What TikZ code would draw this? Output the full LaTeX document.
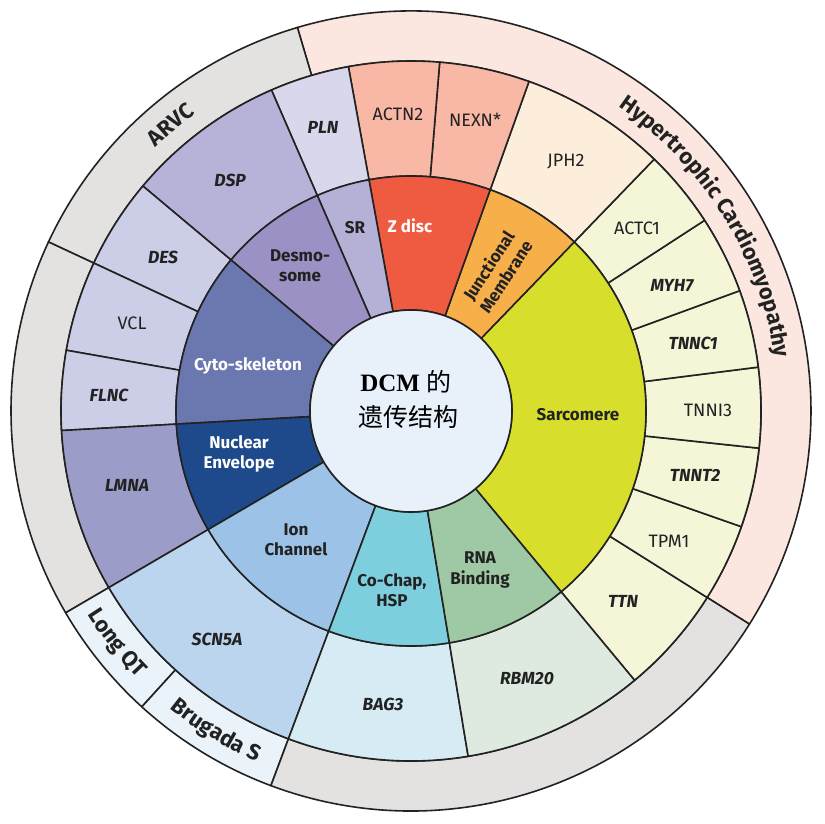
\documentclass[tikz,border=0pt]{standalone}
\usepackage{fontspec}
\setmainfont{Fira Sans}
\newfontfamily\cjkfont{Noto Sans CJK SC}
\newfontfamily\serifbf{Liberation Serif}
\usetikzlibrary{decorations.text}

\definecolor{lineC}{HTML}{222222}
\definecolor{txtC}{HTML}{222222}
\definecolor{grayR}{HTML}{E4E2E1}
\definecolor{hcmR}{HTML}{FCE7E0}
\definecolor{lqtR}{HTML}{EAF2FA}
\definecolor{centerC}{HTML}{E8F0FA}
\definecolor{sarcC}{HTML}{D7DF2C}
\definecolor{juncC}{HTML}{F7AF4A}
\definecolor{zdiscC}{HTML}{EE5B40}
\definecolor{srC}{HTML}{B5B1D6}
\definecolor{desmoC}{HTML}{9B91C5}
\definecolor{cytoC}{HTML}{6B77AF}
\definecolor{nucC}{HTML}{1E4A8B}
\definecolor{ionC}{HTML}{9CC3E7}
\definecolor{cochapC}{HTML}{7DCFDD}
\definecolor{rnaC}{HTML}{9EC9A4}
\definecolor{geneY}{HTML}{F4F6D7}
\definecolor{jphC}{HTML}{FDEEDC}
\definecolor{salmonC}{HTML}{F8B8A5}
\definecolor{plnC}{HTML}{D9D7EB}
\definecolor{dspC}{HTML}{B7B3D8}
\definecolor{desC}{HTML}{CCCDE6}
\definecolor{lmnaC}{HTML}{9C9CC9}
\definecolor{scnC}{HTML}{BBD5EE}
\definecolor{bagC}{HTML}{D6EBF4}
\definecolor{rbmC}{HTML}{DEEADF}

\newcommand{\outerlbl}{\bfseries\fontsize{22}{22}\selectfont}
\newcommand{\sectorfill}[5]{%
  \filldraw[seg, fill=#5] (#3:#1pt) arc[start angle=#3, end angle=#4, radius=#1pt]
    -- (#4:#2pt) arc[start angle=#4, end angle=#3, radius=#2pt] -- cycle;}

\tikzset{
  seg/.style={draw=lineC, line width=1.6pt, line join=round},
  gene/.style={font=\fontsize{18}{18}\selectfont, text=txtC, inner sep=0pt},
  genei/.style={font=\fontsize{17.5}{17.5}\selectfont\bfseries\itshape, text=txtC, inner sep=0pt},
  cat/.style={font=\fontsize{17}{20.5}\selectfont\bfseries, text=txtC, align=center, inner sep=0pt},
  catw/.style={cat, text=white},
  arclbl/.style={decorate, decoration={text along path, text align=center, text color=txtC}},
}

\begin{document}
\begin{tikzpicture}[x=1pt,y=1pt]
\useasboundingbox (-411,-413) rectangle (413,411);
\fill[white] (-411,-413) rectangle (413,411);

% outer ring
\sectorfill{350}{400}{-32.2}{106.5}{hcmR}
\sectorfill{350}{400}{106.5}{155}{grayR}
\sectorfill{350}{400}{155}{210.3}{grayR}
\sectorfill{350}{400}{210.3}{227.7}{lqtR}
\sectorfill{350}{400}{227.7}{249.5}{lqtR}
\sectorfill{350}{400}{249.5}{327.8}{grayR}

% gene ring
\sectorfill{235}{350}{-50.3}{-32.2}{geneY}
\sectorfill{235}{350}{-32.2}{-19.3}{geneY}
\sectorfill{235}{350}{-19.3}{-6.1}{geneY}
\sectorfill{235}{350}{-6.1}{7.2}{geneY}
\sectorfill{235}{350}{7.2}{20.1}{geneY}
\sectorfill{235}{350}{20.1}{33}{geneY}
\sectorfill{235}{350}{33}{46}{geneY}
\sectorfill{235}{350}{46}{70.3}{jphC}
\sectorfill{235}{350}{70.3}{85.3}{salmonC}
\sectorfill{235}{350}{85.3}{100.3}{salmonC}
\sectorfill{235}{350}{100.3}{113.5}{plnC}
\sectorfill{235}{350}{113.5}{140}{dspC}
\sectorfill{235}{350}{140}{155}{desC}
\sectorfill{235}{350}{155}{170}{desC}
\sectorfill{235}{350}{170}{183.2}{desC}
\sectorfill{235}{350}{183.2}{210.3}{lmnaC}
\sectorfill{235}{350}{210.3}{249.5}{scnC}
\sectorfill{235}{350}{249.5}{279.4}{bagC}
\sectorfill{235}{350}{279.4}{309.7}{rbmC}

% category ring
\sectorfill{101}{235}{-50.3}{46}{sarcC}
\sectorfill{101}{235}{46}{70.3}{juncC}
\sectorfill{101}{235}{70.3}{100.3}{zdiscC}
\sectorfill{101}{235}{100.3}{113.5}{srC}
\sectorfill{101}{235}{113.5}{140}{desmoC}
\sectorfill{101}{235}{140}{183.2}{cytoC}
\sectorfill{101}{235}{183.2}{210.3}{nucC}
\sectorfill{101}{235}{210.3}{249.5}{ionC}
\sectorfill{101}{235}{249.5}{279.4}{cochapC}
\sectorfill{101}{235}{279.4}{309.7}{rnaC}

% center
\filldraw[seg, fill=centerC] (0,0) circle[radius=101pt];
\node[font=\fontsize{25}{25}\selectfont, text=black, inner sep=0pt] (title1) at (-5,29) {{\serifbf\bfseries DCM} {\cjkfont 的}};
\node[font=\fontsize{25}{25}\selectfont\cjkfont, text=black, inner sep=0pt] (title2) at (-3,-6) {遗传结构};

% category labels
\node[cat] (sarc) at (167,-4) {Sarcomere};
\node[cat, rotate=57] (junc) at (86,140) {Junctional\\Membrane};
\node[catw] (zdisc) at (-1,185) {Z disc};
\node[cat] (sr) at (-56,183) {SR};
\node[cat] (desmo) at (-111,145) {Desmo-\\some};
\node[catw] (cyto) at (-163,45) {Cyto-skeleton};
\node[catw] (nuc) at (-172,-43) {Nuclear\\Envelope};
\node[cat] (ion) at (-115,-129) {Ion\\Channel};
\node[cat] (cochap) at (-19,-179) {Co-Chap,\\HSP};
\node[cat] (rna) at (69,-159) {RNA\\Binding};

% gene labels
\node[gene] (actn2) at (-13,297) {ACTN2};
\node[gene] (nexn) at (64,291) {NEXN*};
\node[gene] (jph2) at (155,249) {JPH2};
\node[gene] (actc1) at (226,183) {ACTC1};
\node[genei] (myh7) at (261,125) {MYH7};
\node[genei] (tnnc1) at (282,68) {TNNC1};
\node[gene] (tnni3) at (297,1) {TNNI3};
\node[genei] (tnnt2) at (284,-64) {TNNT2};
\node[gene] (tpm1) at (258,-130) {TPM1};
\node[genei] (ttn) at (212,-190) {TTN};
\node[genei] (rbm20) at (116,-268) {RBM20};
\node[genei] (bag3) at (-28,-293) {BAG3};
\node[genei] (scn5a) at (-194,-228) {SCN5A};
\node[genei] (lmna) at (-284,-74) {LMNA};
\node[genei] (flnc) at (-302,16) {FLNC};
\node[gene] (vcl) at (-279,88) {VCL};
\node[genei] (des) at (-248,154) {DES};
\node[genei] (dsp) at (-181,231) {DSP};
\node[genei] (pln) at (-88,284) {PLN};

% outer ring labels
\path[arclbl, decoration={text={|\outerlbl|Hypertrophic Cardiomyopathy}}]
  (62:368pt) arc[start angle=62, end angle=2, radius=368pt];
\path[arclbl, decoration={text={|\outerlbl|ARVC}}]
  (150:367pt) arc[start angle=150, end angle=110, radius=367pt];
\path[arclbl, decoration={text={|\outerlbl|Long QT}}]
  (200:382pt) arc[start angle=200, end angle=236.6, radius=382pt];
\path[arclbl, decoration={text={|\outerlbl|Brugada S}}]
  (221:383pt) arc[start angle=221, end angle=256.2, radius=383pt];
\end{tikzpicture}
\end{document}
